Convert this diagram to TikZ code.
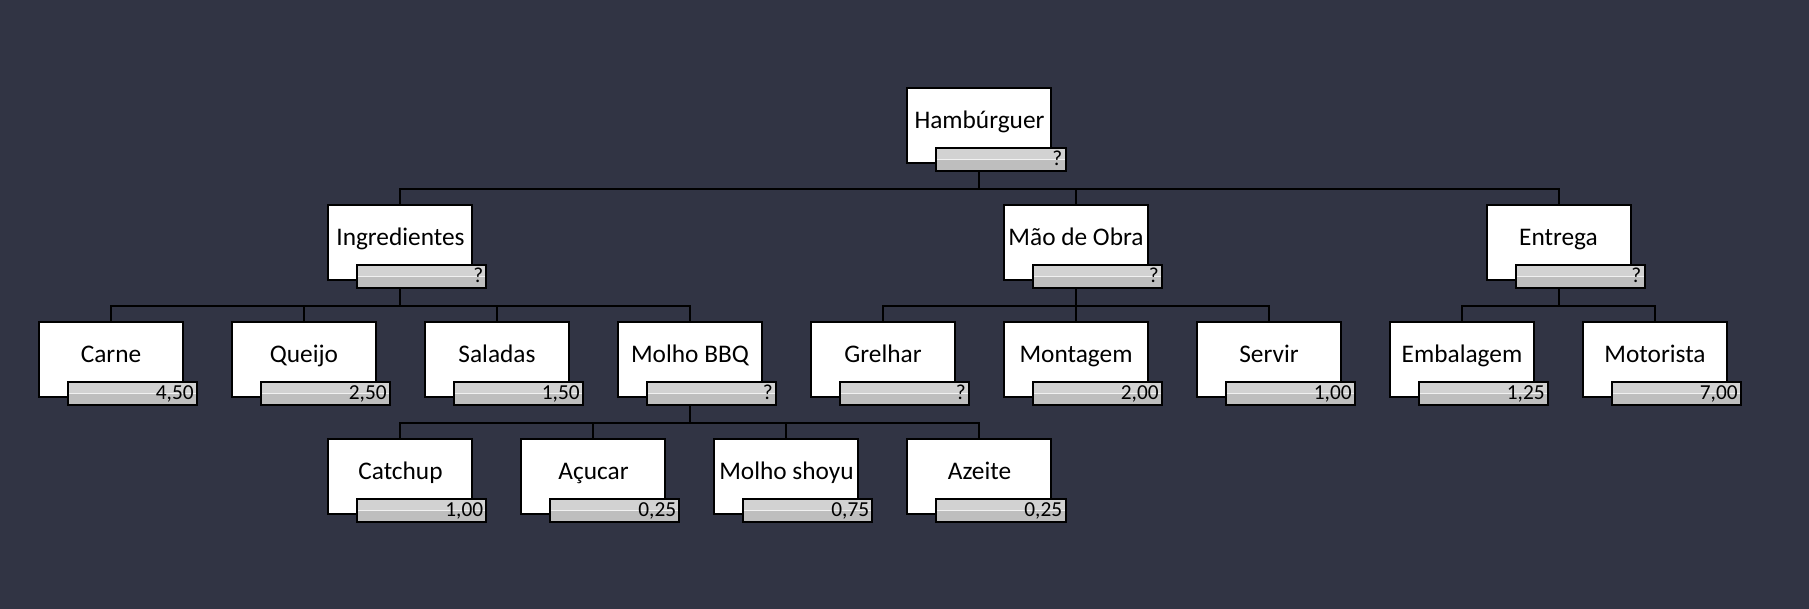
\documentclass[tikz,border=0pt]{standalone}
\usepackage{fontspec}
\setmainfont{Carlito}
\definecolor{bgcol}{RGB}{49,52,68}
\definecolor{barhi}{RGB}{210,210,210}
\definecolor{barlo}{RGB}{190,190,190}
\begin{document}
\begin{tikzpicture}
	[x=144.75pt,y=-87.75pt,
	item/.style={draw,line width=1.5pt,fill=white,minimum width=108pt,minimum height=56.25pt,
		font=\fontsize{19}{19}\selectfont,text height=11pt,text depth=6.5pt},
	bar/.style={draw,line width=1.5pt,fill=barhi,anchor=south west,minimum width=96.75pt,minimum height=17.25pt,
		inner xsep=2.5pt,inner ysep=0pt,text width=91.75pt,align=right,
		font=\fontsize{16}{16}\selectfont,text height=10pt,text depth=0pt,
		path picture={\fill[barlo](path picture bounding box.west)rectangle(path picture bounding box.south east);
			\draw[white!70!barhi,line width=0.75pt](path picture bounding box.west)--(path picture bounding box.east);}},
	line/.style={line width=1.5pt}]
	\fill[bgcol,use as bounding box](-0.5751,-1.0701)rectangle(8.798,4.135);
	% niveis
	\node[item,name=hamb]at(4.5,0){Hambúrguer};
	\node[item,name=ingr]at(1.5,1){Ingredientes};
	\node[item,name=mao]at(5,1){Mão de Obra};
	\node[item,name=entr]at(7.5,1){Entrega};
	\node[item,name=carne]at(0,2){Carne};
	\node[item,name=queijo]at(1,2){Queijo};
	\node[item,name=saladas]at(2,2){Saladas};
	\node[item,name=molho]at(3,2){Molho BBQ};
	\node[item,name=grelhar]at(4,2){Grelhar};
	\node[item,name=montagem]at(5,2){Montagem};
	\node[item,name=servir]at(6,2){Servir};
	\node[item,name=embal]at(7,2){Embalagem};
	\node[item,name=motor]at(8,2){Motorista};
	\node[item,name=catchup]at(1.5,3){Catchup};
	\node[item,name=acucar]at(2.5,3){Açucar};
	\node[item,name=shoyu]at(3.5,3){Molho shoyu};
	\node[item,name=azeite]at(4.5,3){Azeite};
	% custos
	\node[bar,name=hamb-v]at([xshift=21.75pt,yshift=-6pt]hamb.south west){?};
	\node[bar,name=ingr-v]at([xshift=21.75pt,yshift=-6pt]ingr.south west){?};
	\node[bar,name=mao-v]at([xshift=21.75pt,yshift=-6pt]mao.south west){?};
	\node[bar,name=entr-v]at([xshift=21.75pt,yshift=-6pt]entr.south west){?};
	\node[bar,name=carne-v]at([xshift=21.75pt,yshift=-6pt]carne.south west){4,50};
	\node[bar,name=queijo-v]at([xshift=21.75pt,yshift=-6pt]queijo.south west){2,50};
	\node[bar,name=saladas-v]at([xshift=21.75pt,yshift=-6pt]saladas.south west){1,50};
	\node[bar,name=molho-v]at([xshift=21.75pt,yshift=-6pt]molho.south west){?};
	\node[bar,name=grelhar-v]at([xshift=21.75pt,yshift=-6pt]grelhar.south west){?};
	\node[bar,name=montagem-v]at([xshift=21.75pt,yshift=-6pt]montagem.south west){2,00};
	\node[bar,name=servir-v]at([xshift=21.75pt,yshift=-6pt]servir.south west){1,00};
	\node[bar,name=embal-v]at([xshift=21.75pt,yshift=-6pt]embal.south west){1,25};
	\node[bar,name=motor-v]at([xshift=21.75pt,yshift=-6pt]motor.south west){7,00};
	\node[bar,name=catchup-v]at([xshift=21.75pt,yshift=-6pt]catchup.south west){1,00};
	\node[bar,name=acucar-v]at([xshift=21.75pt,yshift=-6pt]acucar.south west){0,25};
	\node[bar,name=shoyu-v]at([xshift=21.75pt,yshift=-6pt]shoyu.south west){0,75};
	\node[bar,name=azeite-v]at([xshift=21.75pt,yshift=-6pt]azeite.south west){0,25};
	% ligacoes
	\draw[line](hamb|-hamb-v.south)--++(0,0.15)-|(ingr);
	\draw[line](hamb|-hamb-v.south)--++(0,0.15)-|(mao);
	\draw[line](hamb|-hamb-v.south)--++(0,0.15)-|(entr);
	\draw[line](ingr|-ingr-v.south)--++(0,0.15)-|(carne);
	\draw[line](ingr|-ingr-v.south)--++(0,0.15)-|(queijo);
	\draw[line](ingr|-ingr-v.south)--++(0,0.15)-|(saladas);
	\draw[line](ingr|-ingr-v.south)--++(0,0.15)-|(molho);
	\draw[line](mao|-mao-v.south)--++(0,0.15)-|(grelhar);
	\draw[line](mao|-mao-v.south)--++(0,0.15)-|(montagem);
	\draw[line](mao|-mao-v.south)--++(0,0.15)-|(servir);
	\draw[line](entr|-entr-v.south)--++(0,0.15)-|(embal);
	\draw[line](entr|-entr-v.south)--++(0,0.15)-|(motor);
	\draw[line](molho|-molho-v.south)--++(0,0.15)-|(catchup);
	\draw[line](molho|-molho-v.south)--++(0,0.15)-|(acucar);
	\draw[line](molho|-molho-v.south)--++(0,0.15)-|(shoyu);
	\draw[line](molho|-molho-v.south)--++(0,0.15)-|(azeite);
\end{tikzpicture}
\end{document}
